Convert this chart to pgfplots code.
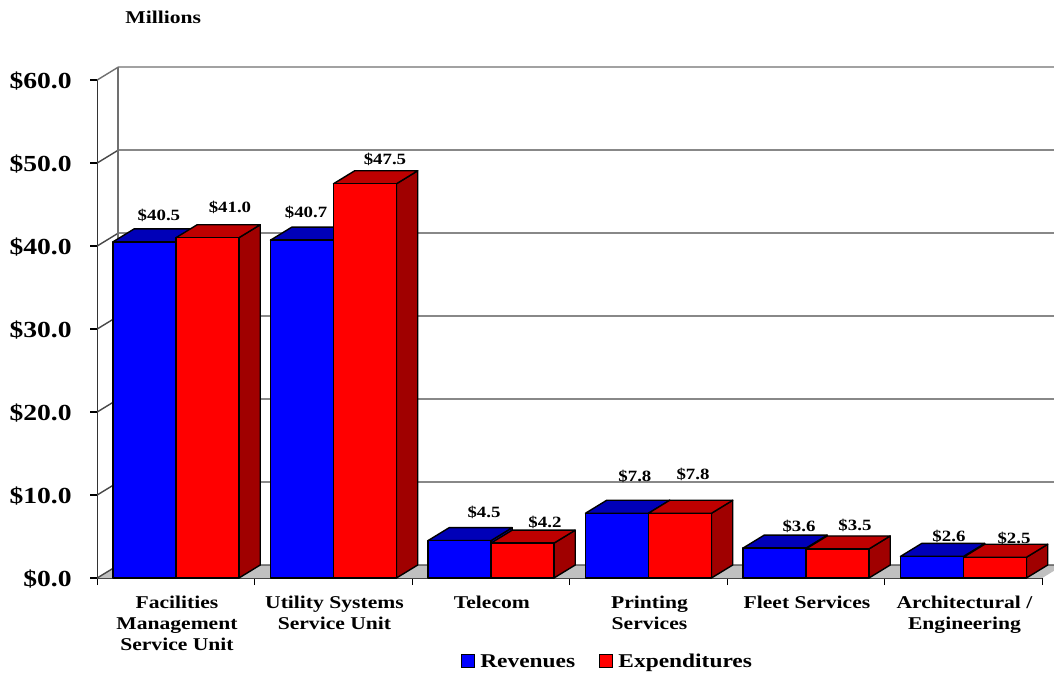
\documentclass[border=0pt]{standalone}
\usepackage{fontspec}
\setmainfont{Liberation Serif}[FakeStretch=1.2]
\usepackage{pgfplots}
\pgfplotsset{compat=1.18}

\definecolor{revfront}{HTML}{0000FF}
\definecolor{revtop}{HTML}{0000B8}
\definecolor{expfront}{HTML}{FF0000}
\definecolor{exptop}{HTML}{BE0000}
\definecolor{expside}{HTML}{A00000}
\definecolor{floorgray}{HTML}{C0C0C0}
\definecolor{wallline}{HTML}{484848}
\definecolor{walledge}{HTML}{707070}

% depth of the 3d effect, in axis units
\def\dX{0.135}
\def\dY{1.566}

% one 3d bar: x left, x right, value, front colour, top colour, side colour
\newcommand{\tdbar}[6]{%
  \pgfmathsetmacro{\xa}{#1+\dX}%
  \pgfmathsetmacro{\xb}{#2+\dX}%
  \pgfmathsetmacro{\vb}{#3+\dY}%
  \addplot[forget plot,draw=black,line width=1.4pt,line join=round,fill=#6] coordinates {(#2,0)(\xb,\dY)(\xb,\vb)(#2,#3)} --cycle;
  \addplot[forget plot,draw=black,line width=1.4pt,line join=round,fill=#5] coordinates {(#1,#3)(\xa,\vb)(\xb,\vb)(#2,#3)} --cycle;
  \addplot[forget plot,draw=black,line width=1.4pt,line join=round,fill=#4] coordinates {(#1,0)(#1,#3)(#2,#3)(#2,0)} --cycle;
}
% one line across the walls at a given value
\newcommand{\wallgrid}[2][wallline]{%
  \pgfmathsetmacro{\xa}{-0.5+\dX}%
  \pgfmathsetmacro{\xb}{5.5+\dX}%
  \pgfmathsetmacro{\vb}{#2+\dY}%
  \addplot[forget plot,draw=#1,line width=1.4pt] coordinates {(-0.5,#2)(\xa,\vb)(\xb,\vb)};
}
\newcommand{\vallabel}[3]{\node[font=\fontsize{15.7}{18}\selectfont\bfseries] at (axis cs:#1,#2) {\$#3};}

\begin{document}
\begin{tikzpicture}
\useasboundingbox (-97.2pt,-97pt) rectangle (956.8pt,578pt);
\begin{axis}[
    scale only axis,
    width=945pt,
    height=498pt,
    xmin=-0.5,xmax=5.5,
    ymin=0,ymax=60,
    clip=false,
    axis x line*=bottom,
    axis y line*=left,
    axis line style={line width=1.3pt,black!80},
    tick style={line width=1.2pt,black},
    tick align=outside,
    major tick length=7pt,
    xtick={-0.5,0.5,1.5,2.5,3.5,4.5,5.5},
    xticklabels={},
    extra x ticks={0,1,2,3,4,5},
    extra x tick labels={{Facilities\\Management\\Service Unit},{Utility Systems\\Service Unit},Telecom,{Printing\\Services},{Fleet Services},{Architectural /\\Engineering}},
    extra x tick style={major tick length=0pt,xticklabel style={align=center,anchor=north,xshift=1pt,yshift=-14pt,font=\fontsize{18}{21}\selectfont\bfseries}},
    ytick={0,10,20,30,40,50,60},
    yticklabel={\$\pgfmathprintnumber{\tick}},
    /pgf/number format/assume math mode=true,
    /pgf/number format/fixed,
    /pgf/number format/fixed zerofill,
    /pgf/number format/precision=1,
    yticklabel style={font=\fontsize{23}{26}\selectfont\bfseries,xshift=-15pt,yshift=-0.7pt},
    legend columns=2,
    legend style={at={(0.54,-0.168)},anchor=center,draw=none,fill=none,
        font=\fontsize{19.5}{22}\selectfont\bfseries,
        /tikz/every odd column/.append style={column sep=3.5pt},
        /tikz/every even column/.append style={column sep=22pt}},
    legend image code/.code={\draw[#1,draw=black,line width=0.8pt] (0pt,-6pt) rectangle (13pt,7pt);},
]
% floor and walls
\addplot[forget plot,draw=none,fill=floorgray] coordinates {(-0.5,0)(-0.365,1.566)(5.635,1.566)(5.5,0)} --cycle;
\wallgrid{0}
\wallgrid{10}
\wallgrid{20}
\wallgrid{30}
\wallgrid{40}
\wallgrid{50}
\wallgrid[walledge]{60}
\addplot[forget plot,draw=walledge,line width=2pt] coordinates {(-0.365,1.566)(-0.365,61.566)};

% value labels sit behind the bars
\vallabel{-0.108}{43.7}{40.5}
\vallabel{0.343}{44.7}{41.0}
\vallabel{0.826}{44.1}{40.7}
\vallabel{1.327}{50.4}{47.5}
\vallabel{1.956}{7.95}{4.5}
\vallabel{2.343}{6.75}{4.2}
\vallabel{2.914}{12.3}{7.8}
\vallabel{3.283}{12.5}{7.8}
\vallabel{3.956}{6.27}{3.6}
\vallabel{4.311}{6.39}{3.5}
\vallabel{4.908}{5.06}{2.6}
\vallabel{5.321}{4.82}{2.5}

% revenues then expenditures, category by category
\tdbar{-0.4}{0}{40.5}{revfront}{revtop}{revtop}
\tdbar{0}{0.4}{41.0}{expfront}{exptop}{expside}
\tdbar{0.6}{1}{40.7}{revfront}{revtop}{revtop}
\tdbar{1}{1.4}{47.5}{expfront}{exptop}{expside}
\tdbar{1.6}{2}{4.5}{revfront}{revtop}{revtop}
\tdbar{2}{2.4}{4.2}{expfront}{exptop}{expside}
\tdbar{2.6}{3}{7.8}{revfront}{revtop}{revtop}
\tdbar{3}{3.4}{7.8}{expfront}{exptop}{expside}
\tdbar{3.6}{4}{3.6}{revfront}{revtop}{revtop}
\tdbar{4}{4.4}{3.5}{expfront}{exptop}{expside}
\tdbar{4.6}{5}{2.6}{revfront}{revtop}{revtop}
\tdbar{5}{5.4}{2.5}{expfront}{exptop}{expside}

\node[font=\fontsize{18}{21}\selectfont\bfseries] at (axis cs:-0.081,67.6) {Millions};

\addlegendimage{fill=revfront}
\addlegendentry{Revenues}
\addlegendimage{fill=expfront}
\addlegendentry{Expenditures}
\end{axis}
\end{tikzpicture}
\end{document}
